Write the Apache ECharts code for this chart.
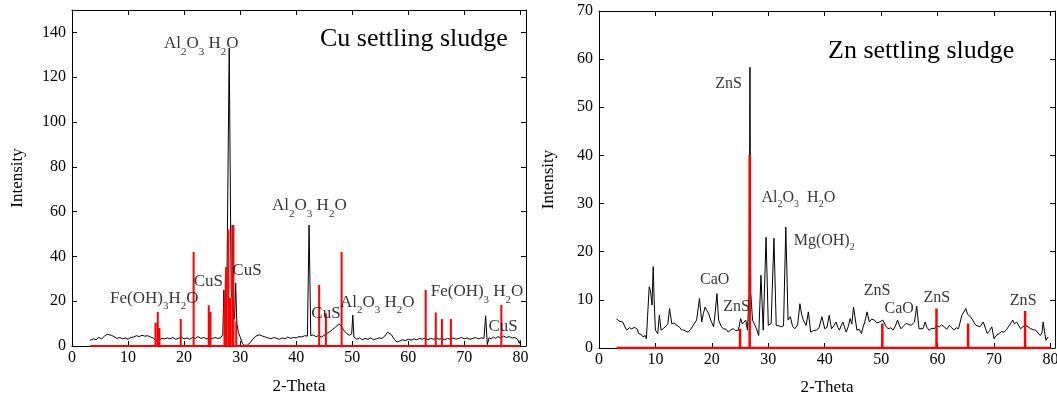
<!DOCTYPE html>
<html>
<head>
<meta charset="utf-8">
<script src="https://cdn.jsdelivr.net/npm/echarts@6/dist/echarts.min.js"></script>
<style>
html,body{margin:0;padding:0;background:#fff;}
#chart{width:1057px;height:398px;}
</style>
</head>
<body>
<div id="chart"></div>
<script>
// ---------- DATA ----------
// Cu settling sludge: measured pattern [2-theta, intensity]
const cuPattern = [
[3.2,2.5],[3.8,3.2],[4.3,2.8],[4.8,3.8],[5.3,3.2],[5.8,4.4],[6.3,5.2],[6.6,6.0],[7.0,4.8],[7.5,4.2],[8.0,3.4],[8.5,3.8],[9.0,3.2],[9.5,3.6],[10.0,3.0],[10.5,3.8],[11.0,4.0],[11.5,4.6],[12.0,4.2],[12.5,4.8],[13.0,4.4],[13.5,4.6],[14.0,4.0],[14.5,3.6],[15.0,2.2],[15.5,2.6],[16.0,3.4],[16.5,3.2],[17.0,3.6],[17.5,3.2],[18.0,3.8],[18.5,3.0],[19.0,3.4],[19.5,4.0],[20.0,3.2],[20.5,3.6],[21.0,3.0],[21.5,3.8],[22.0,3.4],[22.5,4.2],[23.0,3.4],[23.5,3.8],[24.0,3.2],[24.5,3.6],[25.0,3.2],[25.5,3.8],[26.0,3.4],[26.5,3.6],[26.9,5],[27.1,25],[27.3,8],[27.6,18],[28.05,133],[28.4,24],[28.7,20],[29.0,12],[29.2,28],[29.4,10],[29.7,6],[30.0,4],[30.4,1.2],[30.8,0.3],[31.3,0.4],[31.8,1.5],[32.3,3.2],[32.8,4.4],[33.4,5.0],[34.0,4.4],[34.5,4.0],[35.0,3.6],[35.5,3.2],[36.0,3.8],[36.5,3.4],[37.0,3.0],[37.5,3.6],[38.0,3.2],[38.5,4.0],[39.0,3.4],[39.5,3.8],[40.0,3.6],[40.5,4.2],[41.0,4.0],[41.5,4.6],[42.0,4.4],[42.3,54],[42.6,4.6],[43.0,5.0],[43.5,4.2],[44.0,4.6],[44.5,4.0],[45.0,4.8],[45.5,5.6],[46.0,6.4],[46.5,7.4],[47.0,8.4],[47.6,9.8],[48.0,9.0],[48.5,7.0],[49.0,5.6],[49.5,4.8],[49.9,5.4],[50.1,13.8],[50.3,4.0],[50.8,3.0],[51.3,3.6],[51.8,2.8],[52.3,3.4],[52.8,3.0],[53.3,3.6],[53.8,2.8],[54.3,3.2],[54.8,3.6],[55.3,3.4],[55.8,4.4],[56.3,6.2],[56.6,6.6],[57.0,5.0],[57.5,3.0],[58.0,1.8],[58.5,2.2],[59.0,2.8],[59.5,2.4],[60.0,3.0],[60.5,2.6],[61.0,3.2],[61.5,2.8],[62.0,3.4],[62.5,3.0],[63.0,3.6],[63.5,2.8],[64.0,3.4],[64.5,3.0],[65.0,3.6],[65.5,3.0],[66.0,3.4],[66.5,2.8],[67.0,3.4],[67.5,3.0],[68.0,3.6],[68.5,3.0],[69.0,3.4],[69.5,3.8],[70.0,3.2],[70.5,3.6],[71.0,3.0],[71.5,3.4],[72.0,3.8],[72.5,3.2],[73.0,3.6],[73.5,3.4],[73.8,13.5],[74.1,0.6],[74.4,3.6],[74.8,3.2],[75.2,4.0],[75.6,3.4],[76.0,4.2],[76.5,3.6],[77.0,4.4],[77.5,3.8],[78.0,4.2],[78.5,3.6],[79.0,3.8],[79.5,3.0],[79.8,1.2],[80.0,2.6]
];
// Cu reference sticks
const cuStickPos = [14.9,15.3,15.6,19.4,21.7,24.4,24.7,27.2,27.5,27.9,28.2,28.6,28.8,29.3,44.1,45.3,48.1,63.1,64.9,66.0,67.6,76.6];
const cuStickH   = [10.4,15.2,8.0,12.0,42.0,18.2,15.2,21.4,35.3,52.0,21.4,54.0,54.0,11.0,27.2,14.6,42.0,25.0,15.0,12.0,12.0,18.3];
const cuStickRange = [3.2, 80];

// Zn settling sludge: measured pattern
const znPattern = [
[3.1,6.1],[3.5,5.6],[3.8,6.0],[4.2,5.4],[4.6,4.4],[4.9,3.7],[5.4,4.2],[5.8,4.0],[6.3,4.3],[6.8,3.9],[7.0,3.0],[7.5,2.8],[7.8,2.3],[8.2,2.6],[8.4,1.9],[8.6,6.5],[8.9,12.7],[9.1,12.0],[9.2,11.0],[9.4,8.9],[9.6,16.9],[9.8,9.0],[10.0,3.7],[10.4,3.0],[10.7,6.8],[11.0,3.7],[11.4,4.0],[11.7,4.4],[12.2,5.0],[12.5,8.2],[12.9,5.0],[13.3,5.2],[13.8,4.7],[14.3,4.3],[14.6,3.8],[15.0,3.7],[15.4,3.5],[15.8,3.3],[16.2,3.8],[16.7,4.7],[17.0,5.0],[17.3,5.8],[17.8,10.3],[18.2,5.4],[18.5,7.2],[18.8,8.5],[19.1,7.8],[19.4,7.2],[19.8,5.8],[20.3,4.4],[20.6,7.5],[20.9,11.3],[21.2,5.8],[21.6,4.6],[22.0,4.0],[22.5,3.9],[22.9,3.3],[23.4,3.8],[23.8,4.0],[24.2,3.6],[24.7,3.7],[25.1,6.1],[25.4,5.0],[25.7,5.4],[26.0,5.8],[26.3,3.7],[26.6,11.3],[26.75,58.3],[26.9,11.3],[27.2,5.8],[27.6,4.8],[27.9,4.0],[28.3,2.6],[28.7,15.1],[29.1,3.7],[29.6,23.0],[30.0,4.7],[30.5,5.1],[31.0,22.8],[31.4,4.7],[31.9,4.6],[32.3,4.4],[32.7,4.6],[33.1,25.1],[33.5,5.8],[33.9,6.5],[34.3,4.5],[34.7,4.0],[35.2,4.8],[35.6,9.2],[35.9,7.0],[36.2,5.8],[36.7,4.7],[37.1,7.5],[37.5,3.3],[38.0,3.6],[38.5,3.7],[39.0,4.2],[39.5,6.5],[40.0,4.0],[40.4,4.3],[40.8,6.8],[41.2,4.0],[41.6,4.6],[42.0,5.4],[42.3,4.3],[42.6,3.7],[42.9,4.6],[43.2,5.4],[43.8,3.3],[44.2,4.6],[44.5,6.1],[44.8,5.0],[45.1,8.5],[45.7,3.7],[46.1,3.9],[46.5,3.0],[46.8,4.4],[47.1,5.4],[47.5,7.5],[47.9,5.4],[48.3,6.0],[48.8,5.8],[49.2,5.2],[49.7,5.4],[50.0,5.0],[50.3,5.8],[50.8,4.6],[51.2,4.0],[51.7,4.2],[52.1,3.7],[52.5,4.5],[52.9,5.8],[53.2,4.8],[53.5,4.0],[54.0,4.6],[54.4,5.1],[54.9,4.9],[55.3,4.7],[55.6,5.0],[55.9,5.4],[56.3,8.7],[56.7,4.0],[57.0,4.2],[57.4,4.0],[57.8,5.4],[58.1,4.3],[58.5,3.7],[59.0,4.1],[59.4,4.0],[59.8,4.6],[60.3,4.4],[60.7,4.8],[61.2,4.4],[61.6,3.9],[62.1,4.7],[62.5,4.2],[62.9,3.7],[63.3,4.2],[63.7,4.0],[64.3,6.8],[65.0,8.2],[65.3,7.0],[65.6,7.2],[65.9,6.4],[66.2,5.8],[66.5,5.2],[66.8,4.7],[67.1,4.8],[67.5,4.4],[68.1,5.4],[68.5,4.0],[68.8,3.0],[69.2,3.6],[69.6,4.4],[70.0,1.9],[70.4,2.6],[70.9,3.0],[71.3,3.4],[71.8,3.3],[72.2,3.8],[72.7,4.7],[73.0,5.2],[73.3,5.8],[73.6,5.0],[74.0,5.4],[74.4,4.6],[74.7,4.0],[75.1,4.4],[75.6,4.7],[76.0,4.4],[76.5,4.0],[77.0,3.8],[77.4,3.7],[77.8,3.1],[78.2,2.6],[78.5,3.2],[78.7,5.4],[79.0,3.0],[79.2,1.6],[79.6,2.3]
];
// Zn reference sticks
const znStickPos = [25.0,26.7,50.2,59.8,65.4,75.5];
const znStickH   = [4.0,40.1,5.1,8.2,5.1,7.7];
const znStickRange = [3.1, 80];

// Phase labels: [text, x, y]  (x = 2-theta, y = intensity)
const cuLabels = [
  ['Al{s|2}O{s|3} H{s|2}O', 16.4, 135],
  ['Fe(OH){s|3}H{s|2}O', 6.8, 21.4],
  ['CuS', 21.7, 28.6],
  ['CuS', 28.6, 33.9],
  ['Al{s|2}O{s|3} H{s|2}O', 35.7, 62.5],
  ['CuS', 42.7, 14.7],
  ['Al{s|2}O{s|3} H{s|2}O', 47.8, 19.6],
  ['Fe(OH){s|3} H{s|2}O', 64.0, 24.5],
  ['CuS', 74.3, 8.9]
];
const znLabels = [
  ['ZnS', 20.6, 54.8],
  ['Al{s|2}O{s|3}  H{s|2}O', 28.8, 31.2],
  ['Mg(OH){s|2}', 34.5, 22.3],
  ['CaO', 17.9, 14.2],
  ['ZnS', 22.0, 8.5],
  ['ZnS', 46.9, 11.9],
  ['CaO', 50.6, 8.1],
  ['ZnS', 57.5, 10.4],
  ['ZnS', 72.8, 9.9]
];
const titles = ['Cu settling sludge', 'Zn settling sludge'];
const xName = '2-Theta', yName = 'Intensity';

// ---------- BUILD ----------
const FONT = '"Liberation Serif", "DejaVu Serif", serif';
function sticks(pos, h, range) {
  const pts = [[range[0], 0]];
  pos.forEach((p, i) => { pts.push([p, 0], [p, h[i]], [p, 0]); });
  pts.push([range[1], 0]);
  return pts;
}
function labelSeries(labels, ai, main, sub, lh, slh) {
  return {
    type: 'scatter', xAxisIndex: ai, yAxisIndex: ai, symbolSize: 0, silent: true, z: 10,
    data: labels.map(l => ({ value: [l[1], l[2]], label: { formatter: '{m|' + l[0].replace(/\{s\|(\d)\}/g, '}{s|$1}{m|') + '}' } })),
    label: {
      show: true, position: 'right', distance: 0,
      rich: {
        m: { fontFamily: FONT, fontSize: main, color: '#000', lineHeight: lh },
        s: { fontFamily: FONT, fontSize: sub, color: '#000', lineHeight: slh, verticalAlign: 'bottom' }
      }
    }
  };
}
const axisTxt = { fontFamily: FONT, fontSize: 16, color: '#000' };
const line = { show: true, onZero: false, lineStyle: { color: '#000', width: 1 } };
const tick = { show: true, inside: true, length: 5, lineStyle: { color: '#000' } };
function xAxes(gi, max, gap) {
  return [
    { type: 'value', gridIndex: gi, min: 0, max: max, interval: 10, position: 'bottom',
      name: xName, nameLocation: 'middle', nameGap: gap, nameTextStyle: { fontFamily: FONT, fontSize: 17, color: '#000' },
      axisLine: line, axisTick: tick,
      axisLabel: Object.assign({ margin: 4, formatter: v => (v % 10 === 0 ? String(v) : '') }, axisTxt),
      splitLine: { show: false } },
    { type: 'value', gridIndex: gi, min: 0, max: max, interval: 10, position: 'top',
      axisLine: line, axisTick: tick, axisLabel: { show: false }, splitLine: { show: false } }
  ];
}
function yAxes(gi, max, interval, gap) {
  return [
    { type: 'value', gridIndex: gi, min: 0, max: max, interval: interval, position: 'left',
      name: yName, nameLocation: 'middle', nameGap: gap, nameRotate: 90, nameTextStyle: { fontFamily: FONT, fontSize: 17, color: '#000' },
      axisLine: line, axisTick: tick,
      axisLabel: Object.assign({ margin: 6, formatter: v => (v % interval === 0 ? String(v) : '') }, axisTxt),
      splitLine: { show: false } },
    { type: 'value', gridIndex: gi, min: 0, max: max, interval: interval, position: 'right',
      axisLine: line, axisTick: tick, axisLabel: { show: false }, splitLine: { show: false } }
  ];
}

const option = {
  animation: false,
  backgroundColor: '#fff',
  title: [
    { text: titles[0], left: 320, top: 26, padding: 0, textStyle: { fontFamily: FONT, fontSize: 26, fontWeight: 'normal', color: '#000' } },
    { text: titles[1], left: 828, top: 38, padding: 0, textStyle: { fontFamily: FONT, fontSize: 26, fontWeight: 'normal', color: '#000' } }
  ],
  grid: [
    { left: 72, right: 531, top: 10, bottom: 52, containLabel: false, outerBoundsMode: 'none' },
    { left: 599, right: 2, top: 11, bottom: 50, containLabel: false, outerBoundsMode: 'none' }
  ],
  xAxis: xAxes(0, 81, 32).concat(xAxes(1, 80.8, 31)),
  yAxis: yAxes(0, 150, 20, 46).concat(yAxes(1, 70, 10, 42)),
  series: [
    { type: 'line', xAxisIndex: 0, yAxisIndex: 0, data: cuPattern, showSymbol: false, symbol: 'none',
      lineStyle: { color: '#000', width: 1 }, z: 2, silent: true },
    { type: 'line', xAxisIndex: 0, yAxisIndex: 0, data: sticks(cuStickPos, cuStickH, cuStickRange), showSymbol: false, symbol: 'none',
      lineStyle: { color: '#ff0000', width: 2 }, z: 3, silent: true },
    { type: 'line', xAxisIndex: 2, yAxisIndex: 2, data: znPattern, showSymbol: false, symbol: 'none',
      lineStyle: { color: '#000', width: 1 }, z: 2, silent: true },
    { type: 'line', xAxisIndex: 2, yAxisIndex: 2, data: sticks(znStickPos, znStickH, znStickRange), showSymbol: false, symbol: 'none',
      lineStyle: { color: '#ff0000', width: 2.5 }, z: 3, silent: true },
    labelSeries(cuLabels, 0, 17, 11, 28, 11),
    labelSeries(znLabels, 2, 16, 10, 24, 10)
  ]
};
const chart = echarts.init(document.getElementById('chart'), null, { renderer: 'canvas' });
chart.setOption(option);
</script>
</body>
</html>
